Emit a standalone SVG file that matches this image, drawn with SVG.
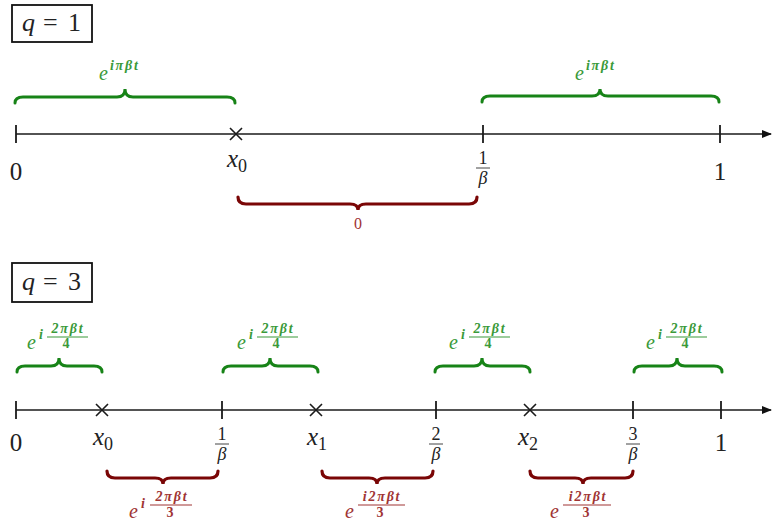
<svg xmlns="http://www.w3.org/2000/svg" width="772" height="525" viewBox="0 0 772 525">
<defs>
<style>
.ax{stroke:#1a1a1a;stroke-width:1.6;fill:none}
.tk{stroke:#1a1a1a;stroke-width:1.8}
.cr{stroke:#1a1a1a;stroke-width:1.6}
.gb{stroke:#178317;stroke-width:3;fill:none;stroke-linecap:round}
.rb{stroke:#7a0606;stroke-width:3.2;fill:none;stroke-linecap:round}
.box{fill:#fff;stroke:#111;stroke-width:1.8}
.t{font-family:"Liberation Serif","DejaVu Serif",serif;fill:#222}
.it{font-style:italic}
.lab{font-size:25px}
.fr{font-size:18px}
.g{font-family:"Liberation Serif","DejaVu Serif",serif;fill:#3a9a3a;font-style:italic}
.r{font-family:"Liberation Serif","DejaVu Serif",serif;fill:#a03434;font-style:italic}
.e{font-size:20px}
.s{font-size:14px;font-weight:bold;letter-spacing:1.8px}
.up{font-style:normal}
.gl{stroke:#3a9a3a;stroke-width:1.2}
.rl{stroke:#a03434;stroke-width:1.2}
.fl{stroke:#444;stroke-width:1}
</style>
<marker id="arr" markerWidth="10" markerHeight="8" refX="9" refY="4" orient="auto" markerUnits="userSpaceOnUse">
<path d="M0,0 L10,4 L0,8 Z" fill="#111"/>
</marker>
</defs>
<rect width="772" height="525" fill="#fff"/>

<g id="box-q1">
<rect class="box" x="12" y="5" width="80" height="37"/>
<text class="t" x="22" y="31" font-size="26"><tspan class="it">q</tspan><tspan x="43">=</tspan><tspan x="68">1</tspan></text>
</g>
<g id="box-q3">
<rect class="box" x="12" y="263" width="80" height="39"/>
<text class="t" x="22" y="290" font-size="26"><tspan class="it">q</tspan><tspan x="43">=</tspan><tspan x="68">3</tspan></text>
</g>

<g id="connectors">
<line class="ax" x1="16" y1="134" x2="771" y2="134" marker-end="url(#arr)"/>
<line class="ax" x1="16" y1="410" x2="771" y2="410" marker-end="url(#arr)"/>
</g>

<g id="axis-q1">
<line class="tk" x1="16" y1="125" x2="16" y2="143"/>
<line class="tk" x1="483" y1="125" x2="483" y2="143"/>
<line class="tk" x1="720" y1="125" x2="720" y2="143"/>
<path class="cr" d="M230,128 L242,140 M242,128 L230,140"/>
<text class="t lab" x="16" y="180" text-anchor="middle">0</text>
<text class="t" x="227" y="167"><tspan class="it" font-size="25">x</tspan><tspan font-size="18" dy="5">0</tspan></text>
<text class="t fr" x="483" y="164" text-anchor="middle">1</text>
<line class="fl" x1="476" y1="168" x2="490" y2="168"/>
<text class="t fr it" x="483" y="184" text-anchor="middle">β</text>
<text class="t lab" x="720" y="180" text-anchor="middle">1</text>
</g>

<g id="braces-q1">
<path class="gb" d="M15,103 Q15,97 23,97 L117,97 Q125,97 125,89 Q125,97 133,97 L227,97 Q235,97 235,103"/>
<path class="gb" d="M482,102 Q482,96 490,96 L592,96 Q600,96 600,89 Q600,96 608,96 L711,96 Q719,96 719,102"/>
<path class="rb" d="M238,197 Q238,204 246,204 L350,204 Q358,204 358,210 Q358,204 366,204 L469,204 Q477,204 477,197"/>
<text class="g" x="99" y="80"><tspan class="e">e</tspan><tspan class="s" dx="2" dy="-10">iπβt</tspan></text>
<text class="g" x="575" y="80"><tspan class="e">e</tspan><tspan class="s" dx="2" dy="-10">iπβt</tspan></text>
<text class="r up" x="358" y="229" font-size="16" text-anchor="middle">0</text>
</g>

<g id="axis-q3">
<line class="tk" x1="16" y1="401" x2="16" y2="419"/>
<line class="tk" x1="222" y1="401" x2="222" y2="419"/>
<line class="tk" x1="436" y1="401" x2="436" y2="419"/>
<line class="tk" x1="633" y1="401" x2="633" y2="419"/>
<line class="tk" x1="721" y1="401" x2="721" y2="419"/>
<path class="cr" d="M96,404 L108,416 M108,404 L96,416"/>
<path class="cr" d="M310,404 L322,416 M322,404 L310,416"/>
<path class="cr" d="M524,404 L536,416 M536,404 L524,416"/>
<text class="t lab" x="16" y="451" text-anchor="middle">0</text>
<text class="t lab" x="721" y="451" text-anchor="middle">1</text>
<text class="t" x="93" y="445"><tspan class="it" font-size="25">x</tspan><tspan font-size="18" dy="5">0</tspan></text>
<text class="t" x="307" y="445"><tspan class="it" font-size="25">x</tspan><tspan font-size="18" dy="5">1</tspan></text>
<text class="t" x="518" y="445"><tspan class="it" font-size="25">x</tspan><tspan font-size="18" dy="5">2</tspan></text>
<text class="t fr" x="222" y="440" text-anchor="middle">1</text>
<line class="fl" x1="215" y1="444" x2="229" y2="444"/>
<text class="t fr it" x="222" y="460" text-anchor="middle">β</text>
<text class="t fr" x="436" y="440" text-anchor="middle">2</text>
<line class="fl" x1="429" y1="444" x2="443" y2="444"/>
<text class="t fr it" x="436" y="460" text-anchor="middle">β</text>
<text class="t fr" x="633" y="440" text-anchor="middle">3</text>
<line class="fl" x1="626" y1="444" x2="640" y2="444"/>
<text class="t fr it" x="633" y="460" text-anchor="middle">β</text>
</g>

<g id="braces-q3-green">
<path class="gb" d="M17,372 Q17,366 25,366 L51,366 Q59,366 59,358 Q59,366 67,366 L94,366 Q102,366 102,372"/>
<path class="gb" d="M223,372 Q223,366 231,366 L262,366 Q270,366 270,358 Q270,366 278,366 L310,366 Q318,366 318,372"/>
<path class="gb" d="M435,372 Q435,366 443,366 L474,366 Q482,366 482,358 Q482,366 490,366 L522,366 Q530,366 530,372"/>
<path class="gb" d="M634,372 Q634,366 642,366 L669,366 Q677,366 677,358 Q677,366 685,366 L714,366 Q722,366 722,372"/>
<text class="g e" x="27" y="349">e</text><text class="g s" x="39" y="339">i</text>
<text class="g s" x="68" y="333" text-anchor="middle">2πβt</text><line class="gl" x1="47" y1="337" x2="88" y2="337"/><text class="g s up" x="67" y="348" text-anchor="middle">4</text>
<text class="g e" x="237" y="349">e</text><text class="g s" x="249" y="339">i</text>
<text class="g s" x="278" y="333" text-anchor="middle">2πβt</text><line class="gl" x1="257" y1="337" x2="298" y2="337"/><text class="g s up" x="277" y="348" text-anchor="middle">4</text>
<text class="g e" x="449" y="349">e</text><text class="g s" x="461" y="339">i</text>
<text class="g s" x="490" y="333" text-anchor="middle">2πβt</text><line class="gl" x1="469" y1="337" x2="510" y2="337"/><text class="g s up" x="489" y="348" text-anchor="middle">4</text>
<text class="g e" x="646" y="349">e</text><text class="g s" x="658" y="339">i</text>
<text class="g s" x="687" y="333" text-anchor="middle">2πβt</text><line class="gl" x1="666" y1="337" x2="707" y2="337"/><text class="g s up" x="686" y="348" text-anchor="middle">4</text>
</g>

<g id="braces-q3-red">
<path class="rb" d="M107,471 Q107,478 115,478 L155,478 Q163,478 163,484 Q163,478 171,478 L210,478 Q218,478 218,471"/>
<path class="rb" d="M322,471 Q322,478 330,478 L369,478 Q377,478 377,484 Q377,478 385,478 L425,478 Q433,478 433,471"/>
<path class="rb" d="M530,471 Q530,478 538,478 L575,478 Q583,478 583,484 Q583,478 591,478 L625,478 Q633,478 633,471"/>
<text class="r e" x="129" y="518">e</text><text class="r s" x="141" y="508">i</text>
<text class="r s" x="172" y="501" text-anchor="middle">2πβt</text><line class="rl" x1="150" y1="505" x2="192" y2="505"/><text class="r s up" x="171" y="517" text-anchor="middle">3</text>
<text class="r e" x="345" y="518">e</text>
<text class="r s" x="382" y="501" text-anchor="middle">i2πβt</text><line class="rl" x1="358" y1="505" x2="405" y2="505"/><text class="r s up" x="381" y="517" text-anchor="middle">3</text>
<text class="r e" x="550" y="518">e</text>
<text class="r s" x="588" y="501" text-anchor="middle">i2πβt</text><line class="rl" x1="563" y1="505" x2="611" y2="505"/><text class="r s up" x="587" y="517" text-anchor="middle">3</text>
</g>
</svg>
